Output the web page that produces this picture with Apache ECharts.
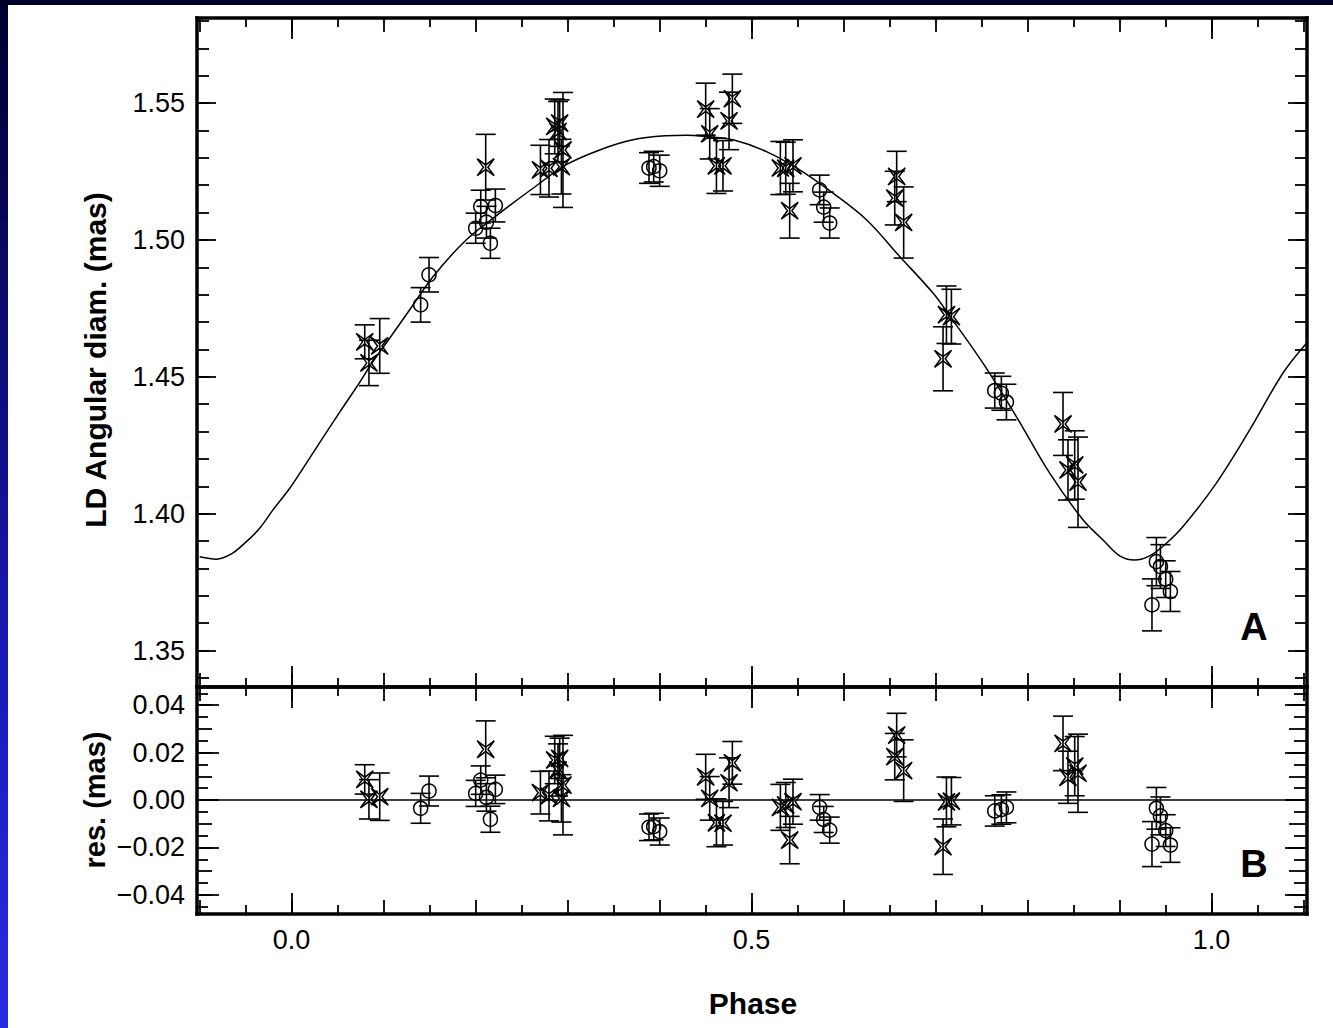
<!DOCTYPE html>
<html>
<head>
<meta charset="utf-8">
<title>LD Angular diameter vs Phase</title>
<script src="https://cdn.jsdelivr.net/npm/echarts@6/dist/echarts.min.js"></script>
<style>
  html, body { margin: 0; padding: 0; width: 1333px; height: 1028px; overflow: hidden; }
  body { background: linear-gradient(to bottom, #00002c 0%, #0c0c78 35%, #1c1cc0 70%, #2a2ae4 100%); }
  #sheet { position: absolute; left: 8px; top: 5px; width: 1325px; height: 1023px; background: #ffffff; }
  #chart { position: absolute; left: 0; top: 0; width: 1333px; height: 1028px; }
</style>
</head>
<body>
<div id="sheet"></div>
<div id="chart"></div>
<script>
// ---- axis extents ----
const phaseRange = [-0.1026, 1.1039];
const diamRange = [1.3367, 1.5811];
const residRange = [-0.0481, 0.0477];
const residZero = 0;

// ---- tick values ----
const phaseLabelTicks = [0.0, 0.5, 1.0];
const phaseTenthTicks = [-0.1, 0.0, 0.1, 0.2, 0.3, 0.4, 0.5, 0.6, 0.7, 0.8, 0.9, 1.0, 1.1];
const phaseHalfTenthTicks = [-0.05, 0.05, 0.15, 0.25, 0.35, 0.45, 0.55, 0.65, 0.75, 0.85, 0.95, 1.05];
const diamLabelTicks = [1.35, 1.40, 1.45, 1.50, 1.55];
const diamMinorTicks = [1.34, 1.35, 1.36, 1.37, 1.38, 1.39, 1.40, 1.41, 1.42, 1.43, 1.44, 1.45, 1.46,
  1.47, 1.48, 1.49, 1.50, 1.51, 1.52, 1.53, 1.54, 1.55, 1.56, 1.57, 1.58];
const residLabelTicks = [-0.04, -0.02, 0.00, 0.02, 0.04];
const residMidTicks = [-0.04, -0.03, -0.02, -0.01, 0.00, 0.01, 0.02, 0.03, 0.04];
const residMinorTicks = [-0.045, -0.035, -0.025, -0.015, -0.005, 0.005, 0.015, 0.025, 0.035, 0.045];

// ---- interferometric measurements, instrument 1 (crosses) ----
const crossPhase = [0.0797, 0.0843, 0.0960, 0.2112, 0.2707, 0.2800, 0.2862, 0.2898, 0.2916, 0.2935, 0.2952,
  0.4503, 0.4547, 0.4620, 0.4691, 0.4757, 0.4793, 0.5315, 0.5373, 0.5416, 0.5452, 0.6558, 0.6579, 0.6655,
  0.7083, 0.7120, 0.7174, 0.8387, 0.8441, 0.8514, 0.8550];
const crossDiam = [1.4628, 1.4551, 1.4613, 1.5266, 1.5256, 1.5262, 1.5415, 1.5396, 1.5427, 1.5268, 1.5329,
  1.5478, 1.5388, 1.5271, 1.5271, 1.5435, 1.5516, 1.5263, 1.5262, 1.5107, 1.5271, 1.5153, 1.5232, 1.5064,
  1.4566, 1.4727, 1.4720, 1.4328, 1.4160, 1.4178, 1.4115];
const crossErr = [0.0062, 0.0083, 0.0100, 0.0120, 0.0090, 0.0105, 0.0100, 0.0110, 0.0085, 0.0100, 0.0210,
  0.0095, 0.0092, 0.0101, 0.0092, 0.0105, 0.0090, 0.0097, 0.0095, 0.0100, 0.0095, 0.0098, 0.0092, 0.0130,
  0.0117, 0.0105, 0.0100, 0.0115, 0.0110, 0.0125, 0.0165];
const crossResid = [0.0087, 0.0003, 0.0014, 0.0214, 0.0031, 0.0017, 0.0169, 0.0127, 0.0176, 0.0007, 0.0063,
  0.0098, 0.0007, -0.0096, -0.0098, 0.0073, 0.0157, -0.0031, -0.0021, -0.0169, -0.0007, 0.0183, 0.0274, 0.0124,
  -0.0197, -0.0008, -0.0005, 0.0239, 0.0096, 0.0143, 0.0113];

// ---- interferometric measurements, instrument 2 (circles) ----
const circlePhase = [0.1405, 0.1496, 0.2003, 0.2058, 0.2120, 0.2163, 0.2217, 0.3887, 0.3938, 0.4003,
  0.5742, 0.5786, 0.5851, 0.7645, 0.7717, 0.7772, 0.9354, 0.9402, 0.9446, 0.9503, 0.9554];
const circleDiam = [1.4763, 1.4873, 1.5043, 1.5122, 1.5065, 1.4988, 1.5126, 1.5263, 1.5268, 1.5253,
  1.5183, 1.5120, 1.5062, 1.4450, 1.4440, 1.4408, 1.3667, 1.3825, 1.3807, 1.3761, 1.3716];
const circleErr = [0.0063, 0.0063, 0.0055, 0.0060, 0.0058, 0.0055, 0.0060, 0.0056, 0.0056, 0.0057,
  0.0054, 0.0055, 0.0055, 0.0064, 0.0062, 0.0065, 0.0095, 0.0088, 0.0080, 0.0067, 0.0073];
const circleResid = [-0.0035, 0.0038, 0.0028, 0.0084, 0.0011, -0.0081, 0.0045, -0.0115, -0.0112, -0.0133,
  -0.0031, -0.0082, -0.0127, -0.0046, -0.0040, -0.0031, -0.0186, -0.0035, -0.0067, -0.0129, -0.0190];

// ---- pulsation model curve ----
const modelPhase = [-0.0997, -0.0815, -0.0652, -0.0489, -0.0345, -0.0200, -0.0018, 0.0163, 0.0343, 0.0525,
  0.0707, 0.0887, 0.1068, 0.1286, 0.1539, 0.1902, 0.2264, 0.2626, 0.2989, 0.3351, 0.3713, 0.4076, 0.4293,
  0.4511, 0.4800, 0.5163, 0.5525, 0.5887, 0.6250, 0.6612, 0.6974, 0.7155, 0.7517, 0.7880, 0.8242, 0.8604,
  0.8822, 0.9003, 0.9166, 0.9329, 0.9511, 0.9691, 1.0054, 1.0416, 1.0778, 1.1033];
const modelDiam = [1.3843, 1.3834, 1.3853, 1.3898, 1.3947, 1.4014, 1.4093, 1.4185, 1.4278, 1.4371,
  1.4462, 1.4556, 1.4641, 1.4745, 1.4866, 1.5001, 1.5098, 1.5189, 1.5275, 1.5329, 1.5366, 1.5381, 1.5383,
  1.5378, 1.5366, 1.5323, 1.5256, 1.5171, 1.5074, 1.4940, 1.4806, 1.4723, 1.4550, 1.4355, 1.4148, 1.3978,
  1.3904, 1.3846, 1.3831, 1.3846, 1.3892, 1.3953, 1.4112, 1.4306, 1.4514, 1.4623];

// ---- drawing helpers ----
const FONT = '"Liberation Sans", Arial, Helvetica, sans-serif';
const INK = '#000000';
const FRAME_WIDTH = 3.5;
const TICK_WIDTH = 1.8;
const STAR = 'path://M0,0 L5,3.7 L10,0 L6.3,5 L10,10 L5,6.3 L0,10 L3.7,5 Z';

function minusSign(text) { return text.replace('-', '\u2212'); }

function axisCommon(range, ticks, len, withLine, labelCfg) {
  return {
    type: 'value', min: range[0], max: range[1], scale: true,
    axisLine: { show: withLine, onZero: false, lineStyle: { color: INK, width: FRAME_WIDTH, cap: 'square' } },
    axisTick: { show: true, inside: true, length: len, customValues: ticks,
      lineStyle: { color: INK, width: TICK_WIDTH } },
    axisLabel: labelCfg ? Object.assign({ show: true, customValues: ticks, color: INK,
      fontFamily: FONT, fontSize: 27 }, labelCfg) : { show: false },
    splitLine: { show: false }, minorTick: { show: false }, axisPointer: { show: false }
  };
}

function phaseAxis(grid, position, ticks, len, withLine, withLabels) {
  const a = axisCommon(phaseRange, ticks, len, withLine,
    withLabels ? { margin: 12, formatter: v => v.toFixed(1) } : null);
  a.gridIndex = grid; a.position = position;
  return a;
}

function valueAxis(grid, position, range, ticks, len, withLine, labelFmt) {
  const a = axisCommon(range, ticks, len, withLine,
    labelFmt ? { margin: 12, formatter: labelFmt } : null);
  a.gridIndex = grid; a.position = position;
  return a;
}

function errorBars(xIdx, yIdx, xs, ys, errs) {
  return {
    type: 'custom', xAxisIndex: xIdx, yAxisIndex: yIdx, silent: true, z: 3,
    data: xs.map((x, i) => [x, ys[i] - errs[i], ys[i] + errs[i]]),
    encode: { x: 0, y: [1, 2] },
    renderItem(params, api) {
      const lo = api.coord([api.value(0), api.value(1)]);
      const hi = api.coord([api.value(0), api.value(2)]);
      const half = 10;
      const style = { stroke: INK, lineWidth: 1.6 };
      return {
        type: 'group',
        children: [
          { type: 'line', shape: { x1: lo[0], y1: lo[1], x2: hi[0], y2: hi[1] }, style },
          { type: 'line', shape: { x1: lo[0] - half, y1: lo[1], x2: lo[0] + half, y2: lo[1] }, style },
          { type: 'line', shape: { x1: hi[0] - half, y1: hi[1], x2: hi[0] + half, y2: hi[1] }, style }
        ]
      };
    }
  };
}

function markers(xIdx, yIdx, xs, ys, symbol, size, extra) {
  return Object.assign({
    type: 'scatter', xAxisIndex: xIdx, yAxisIndex: yIdx, silent: true, z: 4,
    symbol, symbolSize: size,
    itemStyle: { color: 'rgba(0,0,0,0)', borderColor: INK, borderWidth: 1.5, opacity: 1 },
    data: xs.map((x, i) => [x, ys[i]])
  }, extra || {});
}

// x axes: 0-5 in the upper panel, 6-11 in the residual panel
const xAxes = [
  phaseAxis(0, 'bottom', phaseTenthTicks, 14, true, false),
  phaseAxis(0, 'bottom', phaseHalfTenthTicks, 9, false, false),
  phaseAxis(0, 'bottom', phaseLabelTicks, 21, false, false),
  phaseAxis(0, 'top', phaseTenthTicks, 14, true, false),
  phaseAxis(0, 'top', phaseHalfTenthTicks, 9, false, false),
  phaseAxis(0, 'top', phaseLabelTicks, 21, false, false),
  phaseAxis(1, 'bottom', phaseTenthTicks, 14, true, false),
  phaseAxis(1, 'bottom', phaseHalfTenthTicks, 9, false, false),
  phaseAxis(1, 'bottom', phaseLabelTicks, 21, false, true),
  phaseAxis(1, 'top', phaseTenthTicks, 14, true, false),
  phaseAxis(1, 'top', phaseHalfTenthTicks, 9, false, false),
  phaseAxis(1, 'top', phaseLabelTicks, 21, false, false)
];

// y axes: 0-3 diameter panel, 4-9 residual panel
const yAxes = [
  valueAxis(0, 'left', diamRange, diamLabelTicks, 19, true, v => v.toFixed(2)),
  valueAxis(0, 'left', diamRange, diamMinorTicks, 12, false, null),
  valueAxis(0, 'right', diamRange, diamLabelTicks, 19, true, null),
  valueAxis(0, 'right', diamRange, diamMinorTicks, 12, false, null),
  valueAxis(1, 'left', residRange, residLabelTicks, 22, true, v => minusSign(v.toFixed(2))),
  valueAxis(1, 'left', residRange, residMidTicks, 15, false, null),
  valueAxis(1, 'left', residRange, residMinorTicks, 11, false, null),
  valueAxis(1, 'right', residRange, residLabelTicks, 22, true, null),
  valueAxis(1, 'right', residRange, residMidTicks, 18, false, null),
  valueAxis(1, 'right', residRange, residMinorTicks, 13, false, null)
];

const titleFont = 'bold 30px ' + FONT;
const residTitleFont = 'bold 29px ' + FONT;
const panelFont = 'bold 38px ' + FONT;
function label(text, x, y, font, rotation) {
  return {
    type: 'text', x, y, rotation: rotation || 0, silent: true, z: 10,
    style: { text, font, fill: INK, textAlign: 'center', textVerticalAlign: 'middle',
      align: 'center', verticalAlign: 'middle' }
  };
}

const chart = echarts.init(document.getElementById('chart'), null, { renderer: 'svg', width: 1333, height: 1028 });
chart.setOption({
  animation: false,
  backgroundColor: 'transparent',
  grid: [
    { left: 197, top: 18, width: 1110, height: 669, containLabel: false },
    { left: 197, top: 687, width: 1110, height: 227, containLabel: false }
  ],
  xAxis: xAxes,
  yAxis: yAxes,
  graphic: [
    label('LD Angular diam. (mas)', 95, 360, titleFont, Math.PI / 2),
    label('res. (mas)', 95, 800, residTitleFont, Math.PI / 2),
    label('Phase', 753, 1003, titleFont, 0),
    label('A', 1254, 627, panelFont, 0),
    label('B', 1254, 864, panelFont, 0)
  ],
  series: [
    {
      type: 'line', xAxisIndex: 0, yAxisIndex: 0, silent: true, z: 2,
      data: modelPhase.map((p, i) => [p, modelDiam[i]]),
      smooth: 0.35, symbol: 'none', showSymbol: false,
      lineStyle: { color: INK, width: 1.5 }
    },
    errorBars(0, 0, circlePhase, circleDiam, circleErr),
    errorBars(0, 0, crossPhase, crossDiam, crossErr),
    markers(0, 0, circlePhase, circleDiam, 'circle', 14),
    markers(0, 0, crossPhase, crossDiam, STAR, 17),
    errorBars(6, 4, circlePhase, circleResid, circleErr),
    errorBars(6, 4, crossPhase, crossResid, crossErr),
    markers(6, 4, circlePhase, circleResid, 'circle', 14, {
      markLine: {
        silent: true, symbol: 'none', label: { show: false },
        lineStyle: { color: INK, width: 1.5, type: 'solid' },
        data: [{ yAxis: residZero }]
      }
    }),
    markers(6, 4, crossPhase, crossResid, STAR, 17)
  ]
});
</script>
</body>
</html>
